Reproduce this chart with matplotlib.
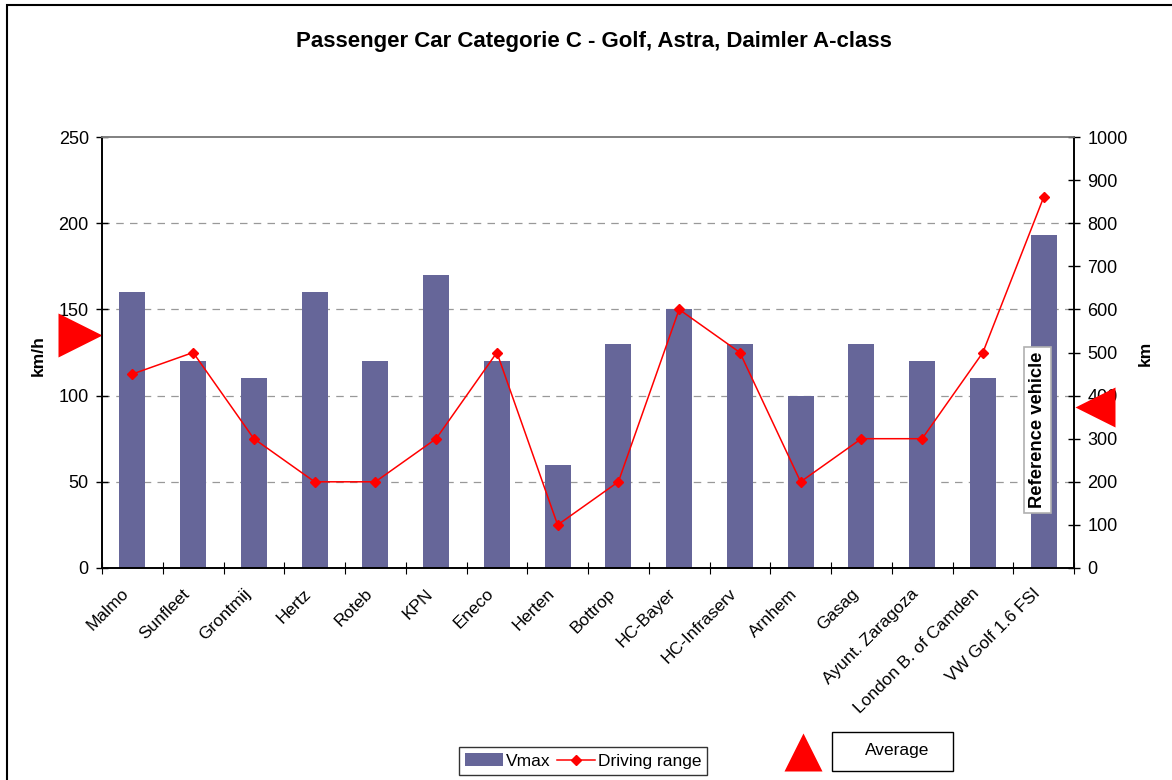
import matplotlib
matplotlib.use("Agg")
import matplotlib.pyplot as plt
import matplotlib.patches as patches
import matplotlib.transforms as mtransforms
import numpy as np

plt.rcParams['font.family'] = ['Liberation Sans', 'DejaVu Sans']

# Chart data
categories = ['Malmo', 'Sunfleet', 'Grontmij', 'Hertz', 'Roteb', 'KPN', 'Eneco',
              'Herten', 'Bottrop', 'HC-Bayer', 'HC-Infraserv', 'Arnhem', 'Gasag',
              'Ayunt. Zaragoza', 'London B. of Camden', 'VW Golf 1.6 FSI']
vmax = [160, 120, 110, 160, 120, 170, 120, 60, 130, 150, 130, 100, 130, 120, 110, 193]
driving_range = [450, 500, 300, 200, 200, 300, 500, 100, 200, 600, 500, 200, 300, 300, 500, 860]
avg_vmax = 135
avg_range = 373

W, H = 1172, 780
fig = plt.figure(figsize=(W / 100, H / 100), dpi=100)

# plot area in pixels
left, right, top, bottom = 102, 1074, 137, 568
ax = fig.add_axes([left / W, 1 - bottom / H, (right - left) / W, (bottom - top) / H])
ax2 = ax.twinx()

x = np.arange(len(categories))
bars = ax.bar(x, vmax, width=0.43, color='#666699', zorder=2)
ax.set_xlim(-0.5, len(categories) - 0.5)
ax.set_ylim(0, 250)
ax.set_yticks(np.arange(0, 251, 50))
for v in [50, 100, 150, 200]:
    ax.axhline(v, color='#999999', lw=0.9, ls=(0, (6, 5)), zorder=1)

line, = ax2.plot(x, driving_range, color='#ff0000', lw=1.1, marker='D', ms=5,
                 zorder=3)
ax2.set_ylim(0, 1000)
ax2.set_yticks(np.arange(0, 1001, 100))
ax.set_zorder(ax2.get_zorder() - 1)
ax.patch.set_visible(False)

# x ticks at category boundaries; category names drawn as rotated texts
ax.set_xticks(np.arange(-0.5, len(categories), 1.0))
ax.set_xticklabels([])
ax.tick_params(axis='x', direction='inout', length=8, width=0.8)
lbl_tr = mtransforms.offset_copy(
    mtransforms.blended_transform_factory(ax.transData, ax.transAxes),
    fig=fig, x=-11, y=-18, units='dots')
for xi, name in zip(x, categories):
    ax.text(xi, 0, name, transform=lbl_tr, rotation=45, ha='right', va='top',
            rotation_mode='anchor', fontsize=12.5, clip_on=False)

ax.tick_params(axis='y', direction='inout', length=8, width=1, labelsize=13, pad=5.5)
ax2.tick_params(axis='y', direction='inout', length=8, width=1, labelsize=13, pad=5.5)

for a in (ax, ax2):
    a.spines['top'].set_color('#808080')
    a.spines['top'].set_linewidth(1.2)
    a.spines['left'].set_linewidth(1.2)
    a.spines['right'].set_linewidth(1.2)
    a.spines['bottom'].set_linewidth(1.2)

ax.set_ylabel('km/h', fontsize=12.5, fontweight='bold')
ax.yaxis.set_label_coords(-0.058, 0.494)
ax2.set_ylabel('km', fontsize=12.5, fontweight='bold')
ax2.yaxis.set_label_coords(1.066, 0.499)

fig.text(594 / W, 1 - 42 / H, 'Passenger Car Categorie C - Golf, Astra, Daimler A-class',
         ha='center', va='center', fontsize=16, fontweight='bold')

# average markers on axes
tr_left = mtransforms.offset_copy(
    mtransforms.blended_transform_factory(ax.transAxes, ax.transData),
    fig=fig, x=-22, y=0, units='dots')
ax.plot([0], [avg_vmax], marker='>', ms=31, color='#ff0000', mec='none',
        transform=tr_left, clip_on=False, zorder=5)
tr_right = mtransforms.offset_copy(
    mtransforms.blended_transform_factory(ax2.transAxes, ax2.transData),
    fig=fig, x=21, y=0, units='dots')
ax2.plot([1], [avg_range], marker='<', ms=29, color='#ff0000', mec='none',
         transform=tr_right, clip_on=False, zorder=5)

# reference vehicle label
ax.text(14.9, 80, 'Reference vehicle', rotation=90, ha='center', va='center',
        fontsize=13.2, fontweight='bold', zorder=6,
        bbox=dict(boxstyle='square,pad=0.25', fc='white', ec='#b0b0b0', lw=1.2))

# legend
leg = fig.legend([bars, line], ['Vmax', 'Driving range'], ncol=2,
                 loc='center', bbox_to_anchor=(583 / W, 1 - 761 / H),
                 fontsize=12.5, frameon=True, fancybox=False, edgecolor='black',
                 handlelength=2.2, handletextpad=0.15, columnspacing=0.4,
                 borderpad=0.35)
leg.get_frame().set_linewidth(1.0)

# average key
fig.lines.append(plt.Line2D([803 / W], [1 - 752 / H], marker='^', ms=27,
                            color='#ff0000', mec='none', transform=fig.transFigure))
fig.patches.append(patches.Rectangle((832 / W, 1 - 771 / H), 121 / W, 39 / H,
                                     fill=False, ec='black', lw=1.0,
                                     transform=fig.transFigure))
fig.text(897 / W, 1 - 751 / H, 'Average', ha='center', va='center', fontsize=12.5)

# chart border
fig.patches.append(patches.Rectangle((7 / W, -0.05), 1.2, 1 - 5 / H + 0.05,
                                     fill=False, ec='black', lw=1.5,
                                     transform=fig.transFigure))

fig.savefig('out.png', dpi=100)
